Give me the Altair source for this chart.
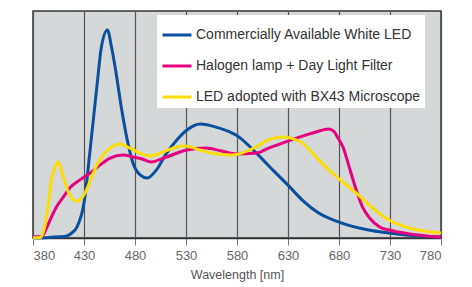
import altair as alt
import pandas as pd

series = [
    "Commercially Available White LED",
    "Halogen lamp + Day Light Filter",
    "LED adopted with BX43 Microscope",
]
line_colors = ["#0b4f9f", "#e6007e", "#ffdd00"]
line_widths = [3, 3, 5]

led_nm = [380, 395, 405, 413, 418, 423, 430, 436, 443, 447, 453, 457, 460.5, 467, 473, 478, 485, 492,
          501, 511, 521, 531, 544, 556, 573, 579, 599, 615, 630, 644, 660, 680, 709, 729, 750, 780]
led_val = [0, 0.2, 0.5, 0.9, 2.2, 4.8, 15.4, 38.8, 68.3, 84, 91.6, 84, 75.3, 56.4, 41.9, 33, 27.8, 26.4,
           30, 37.4, 43.2, 47.6, 50.2, 49.3, 46.7, 45.4, 37.4, 30, 23.3, 16.7, 11, 7, 3.5, 2.2, 1.1, 0.4]

hal_nm = [380, 388, 393, 396.7, 403, 409.7, 416, 426, 436, 446, 455.5, 468.5, 478, 487, 496, 511, 531,
          550, 565, 579, 599, 611, 630, 648, 657.5, 670, 675, 679, 684, 690, 697, 703, 710, 720, 729,
          749, 780]
hal_val = [0.6, 0.6, 4, 7.9, 13.7, 18, 22, 25.6, 28.6, 32.2, 35.2, 36.6, 35.7, 34.8, 33.5, 35.7, 38.8,
           39.6, 38.3, 37, 37.4, 39.6, 42.7, 45.4, 46.7, 48, 47, 44, 40, 31.3, 21, 13.7, 8.8, 4.8, 3.5,
           1.8, 0.4]

bx_nm = [380, 387, 393.4, 398, 401.6, 404.8, 409.7, 416, 423.5, 431, 439, 449, 457, 465, 475, 485,
         494.7, 507.7, 521, 529, 543.7, 560, 576, 598.6, 611, 624.8, 633, 644, 657.5, 670, 683.6, 697,
         709.6, 729, 749, 780]
bx_val = [0, 0.2, 9.3, 25.6, 31.3, 33.5, 26.9, 18.9, 16.3, 19.8, 28.6, 36.6, 40.1, 41.4, 39.6, 37.4,
          36.1, 37.9, 40.1, 40.5, 38.8, 37, 36.6, 40.1, 43.2, 44.5, 44, 41.8, 35.7, 30, 24.7, 19.8,
          14.5, 7.9, 4.4, 2.2]

tick_values = [380, 430, 480, 530, 580, 630, 680, 730, 780]

rows = []
for name, xs, ys in zip(series, [led_nm, hal_nm, bx_nm], [led_val, hal_val, bx_val]):
    for x, y in zip(xs, ys):
        rows.append({"series": name, "nm": x, "val": y})
df = pd.DataFrame(rows)

chart = alt.Chart(df).mark_line(interpolate="monotone").encode(
    x=alt.X("nm:Q", scale=alt.Scale(domain=[380, 780], nice=False, zero=False),
            axis=alt.Axis(values=tick_values, title="Wavelength [nm]", grid=True,
                          gridColor="#555555", gridWidth=1.2, tickColor="#777777", tickSize=7,
                          domainColor="#333333", domainWidth=1.5, labelColor="#666666",
                          labelFontSize=13, labelFont="Liberation Sans", labelPadding=4,
                          titleColor="#555555", titleFontSize=12.5, titleFont="Liberation Sans",
                          titleFontWeight="normal", titlePadding=6, format="d")),
    y=alt.Y("val:Q", scale=alt.Scale(domain=[0, 100], nice=False), axis=None),
    color=alt.Color("series:N", scale=alt.Scale(domain=series, range=line_colors),
                    legend=alt.Legend(title=None, orient="none", legendX=124, legendY=4,
                                      fillColor="white", padding=4, symbolType="stroke",
                                      symbolSize=841, symbolStrokeWidth=3.5, rowPadding=8,
                                      labelFontSize=14, labelFont="Liberation Sans",
                                      labelColor="#333333", labelLimit=500, labelOffset=3,
                                      labelExpr="datum.label + '      '")),
    strokeWidth=alt.StrokeWidth("series:N", scale=alt.Scale(domain=series, range=line_widths),
                                legend=None),
    order=alt.Order("nm:Q"),
).properties(
    width=408, height=227,
    autosize=alt.AutoSizeParams(type="none"),
    padding={"left": 25, "top": 3, "right": 23, "bottom": 46},
).configure_view(
    fill="#d5d8d8", stroke="#333333", strokeWidth=1.5
)

chart.save("out.html", embed_options={"renderer": "svg", "actions": False})
